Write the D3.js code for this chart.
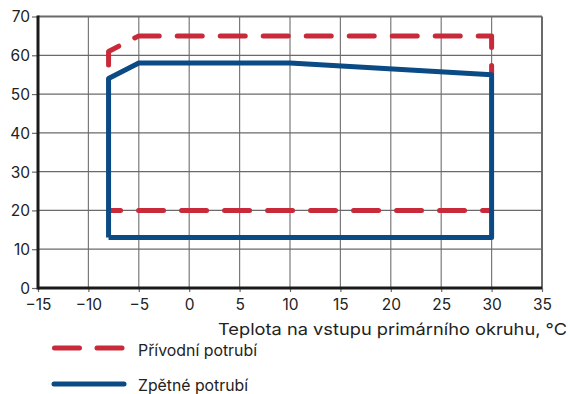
<!DOCTYPE html>
<html><head><meta charset="utf-8">
<script src="https://cdn.jsdelivr.net/npm/d3@7/dist/d3.min.js"></script>
<style>body{margin:0;background:#fff}svg{display:block}text{font-family:Inter,"Noto Sans",sans-serif;fill:#222}</style>
</head><body><svg id="c" width="570" height="394"></svg>
<script>
const xTicks = [-15,-10,-5,0,5,10,15,20,25,30,35];
const yTicks = [0,10,20,30,40,50,60,70];
const supplyTop = [[-8,57.5],[-8,61],[-5,65],[30,65],[30,55]];
const supplyBottom = [[-8,20],[30,20]];
const returnLine = [[-8,13],[-8,54],[-5,58],[10,58],[30,55],[30,13],[-8,13]];
const legendLabels = ["Přívodní potrubí","Zpětné potrubí"];
const xTitle = "Teplota na vstupu primárního okruhu, °C";

const RED = "#c92a3a", BLUE = "#0a4a85";
const svg = d3.select("#c");
const x = d3.scaleLinear().domain([-15,35]).range([38,542]);
const y = d3.scaleLinear().domain([0,70]).range([288,16.5]);

// grid
svg.append("g").selectAll("line").data(xTicks.slice(1,-1)).join("line")
  .attr("x1",d=>x(d)).attr("x2",d=>x(d)).attr("y1",y(0)).attr("y2",y(70))
  .attr("stroke","#7a7a7a").attr("stroke-width",1.2);
svg.append("g").selectAll("line").data(yTicks.slice(1,-1)).join("line")
  .attr("x1",x(-15)).attr("x2",x(35)).attr("y1",d=>y(d)).attr("y2",d=>y(d))
  .attr("stroke","#6a6a6a").attr("stroke-width",1.2);
// top/right border
svg.append("line").attr("x1",x(-15)).attr("x2",x(35)).attr("y1",y(70)).attr("y2",y(70)).attr("stroke","#6a6a6a").attr("stroke-width",2);
svg.append("line").attr("x1",x(35)).attr("x2",x(35)).attr("y1",y(70)).attr("y2",y(0)).attr("stroke","#6a6a6a").attr("stroke-width",2);

// axes
const xa = svg.append("g").attr("transform",`translate(0,${y(0)})`)
  .call(d3.axisBottom(x).tickValues(xTicks).tickSize(4).tickPadding(3).tickFormat(d=>d<0?"\u2212"+Math.abs(d):d));
const ya = svg.append("g").attr("transform",`translate(${x(-15)},0)`)
  .call(d3.axisLeft(y).tickValues(yTicks).tickSize(6).tickPadding(2));
[xa,ya].forEach(a=>{
  a.select(".domain").remove();
  a.selectAll(".tick line").attr("stroke","#6a6a6a").attr("stroke-width",1.2);
  a.selectAll("text").attr("font-size",15.5).attr("fill","#333").style("font-family","Inter, sans-serif");
});
xa.selectAll("text").attr("dy","0.95em");
ya.selectAll("text").attr("dy","0.35em");

svg.append("line").attr("x1",x(-15)).attr("x2",x(35)).attr("y1",y(0)).attr("y2",y(0)).attr("stroke","#1a1a1a").attr("stroke-width",3);
svg.append("line").attr("x1",x(-15)).attr("x2",x(-15)).attr("y1",y(70)-1).attr("y2",y(0)+1.5).attr("stroke","#1a1a1a").attr("stroke-width",3);

const line = d3.line().x(d=>x(d[0])).y(d=>y(d[1]));
svg.append("path").attr("d",line(supplyTop)).attr("fill","none").attr("stroke",RED)
  .attr("stroke-width",5).attr("stroke-linecap","round").attr("stroke-linejoin","round")
  .attr("stroke-dasharray","25,18").attr("stroke-dashoffset",0);
svg.append("path").attr("d",line(supplyBottom)).attr("fill","none").attr("stroke",RED)
  .attr("stroke-width",5).attr("stroke-linecap","round")
  .attr("stroke-dasharray","25,18").attr("stroke-dashoffset",13);
svg.append("path").attr("d",line(returnLine)).attr("fill","none").attr("stroke",BLUE)
  .attr("stroke-width",5).attr("stroke-linejoin","round");

svg.append("text").attr("x",567).attr("y",334.5).attr("text-anchor","end").attr("font-size",16.5)
  .attr("textLength",349).attr("lengthAdjust","spacingAndGlyphs").text(xTitle);

// legend
svg.append("line").attr("x1",54.5).attr("x2",122).attr("y1",348).attr("y2",348).attr("stroke",RED)
  .attr("stroke-width",5).attr("stroke-linecap","round").attr("stroke-dasharray","25,17.5");
svg.append("line").attr("x1",54).attr("x2",124).attr("y1",384).attr("y2",384).attr("stroke",BLUE)
  .attr("stroke-width",5).attr("stroke-linecap","round");
svg.append("text").attr("x",138).attr("y",355.5).attr("font-size",16)
  .attr("textLength",119).attr("lengthAdjust","spacingAndGlyphs").text(legendLabels[0]);
svg.append("text").attr("x",138).attr("y",391).attr("font-size",16)
  .attr("textLength",110).attr("lengthAdjust","spacingAndGlyphs").text(legendLabels[1]);
</script></body></html>
